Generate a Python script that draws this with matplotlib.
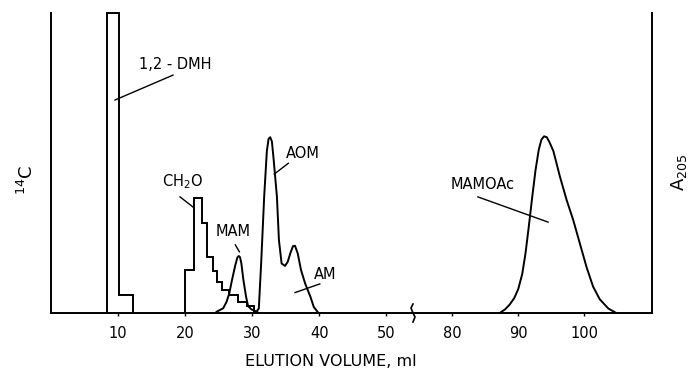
import matplotlib
matplotlib.use("Agg")
import matplotlib.pyplot as plt
from matplotlib.lines import Line2D

plt.rcParams["font.family"] = "DejaVu Sans"
plt.rcParams["mathtext.default"] = "regular"

# 14C histogram (step outlines)
dmh_edges = [8.3, 10.1, 12.3]
dmh_counts = [100, 6]
ch2o_edges = [20, 21.3, 22.5, 23.2, 24.2, 24.7, 25.5, 26.5, 27.9, 29.2, 30.3]
ch2o_counts = [14.3, 38.2, 29.9, 18.6, 14.1, 10.4, 7.7, 6.0, 3.8, 2.3]

# A205 traces
mam_x = [24.7, 25.7, 26.2, 26.6, 27.0, 27.5, 27.8, 28.0, 28.2, 28.4, 28.7, 29.1, 29.4, 29.9, 30.4, 31.0]
mam_y = [0.4, 1.6, 3.8, 6.6, 11.0, 16.0, 18.5, 19.0, 18.6, 16.5, 11.0, 5.4, 2.3, 1.2, 0.7, 0.0]

aom_x = [30.5, 31.0, 31.35, 31.8, 32.2, 32.45, 32.7, 32.95, 33.2, 33.7, 34.0, 34.4, 34.9, 35.3,
         35.7, 36.1, 36.4, 36.8, 37.3, 37.9, 38.7, 39.2, 39.9]
aom_y = [0.0, 1.5, 16.6, 38.8, 54.0, 58.0, 58.6, 57.2, 51.5, 38.8, 24.3, 16.5, 15.7, 17.0,
         19.9, 22.3, 22.4, 19.9, 14.3, 9.9, 5.4, 2.0, 0.0]

mamoac_x = [87.2, 88.0, 88.7, 89.4, 90.0, 90.6, 91.1, 91.6, 92.1, 92.6, 93.1, 93.5, 93.9, 94.3,
            94.7, 95.3, 96.3, 97.3, 98.3, 99.3, 100.3, 101.3, 102.3, 103.6, 104.8]
mamoac_y = [0.0, 1.2, 2.8, 5.0, 8.0, 13.0, 20.0, 29.0, 38.5, 47.5, 54.5, 57.8, 58.9, 58.6,
            57.0, 54.0, 45.4, 37.7, 31.0, 23.2, 15.4, 8.8, 4.6, 1.5, 0.0]

left_ticks = [10, 20, 30, 40, 50]
right_ticks = [80, 90, 100]

W, H = 694, 369
fig = plt.figure(figsize=(W / 100, H / 100), dpi=100)
L, M, R = 51 / W, 413 / W, 652 / W
B, T = 1 - 313 / H, 1 - 13 / H
ax1 = fig.add_axes([L, B, M - L, T - B])
ax2 = fig.add_axes([M, B, R - M, T - B])

lw = 1.4
ax1.stairs(dmh_counts, dmh_edges, color="black", lw=lw, clip_on=False)
ax1.stairs(ch2o_counts, ch2o_edges, color="black", lw=lw)
ax1.plot(mam_x, mam_y, color="black", lw=lw)
ax1.plot(aom_x, aom_y, color="black", lw=lw)
ax2.plot(mamoac_x, mamoac_y, color="black", lw=lw)

ax1.set_xlim(0, 54)
ax2.set_xlim(74.1, 110.2)
for ax in (ax1, ax2):
    ax.set_ylim(0, 100)
    ax.set_yticks([])
    ax.spines["top"].set_visible(False)
    ax.spines["bottom"].set_linewidth(lw)
    ax.tick_params(axis="x", direction="out", length=2.5, width=1, pad=7, labelsize=10.5)
    ax.patch.set_alpha(0)
ax1.spines["right"].set_visible(False)
ax1.spines["left"].set_linewidth(lw)
ax2.spines["left"].set_visible(False)
ax2.spines["right"].set_linewidth(lw)
ax1.set_xticks(left_ticks)
ax2.set_xticks(right_ticks)

# labels with leader lines
fs = 10.5
ax1.text(18.5, 82.7, "1,2 - DMH", fontsize=fs, ha="center", va="center")
ax1.plot([18.2, 9.55], [79.3, 71.0], color="black", lw=1)
ax1.text(19.6, 43.7, "CH$_2$O", fontsize=fs, ha="center", va="center")
ax1.plot([19.25, 21.2], [38.7, 35.3], color="black", lw=1)
ax1.text(27.2, 27.0, "MAM", fontsize=fs, ha="center", va="center")
ax1.plot([27.5, 28.1], [22.7, 20.4], color="black", lw=1)
ax1.text(37.5, 53.2, "AOM", fontsize=fs, ha="center", va="center")
ax1.plot([35.4, 33.3], [49.9, 46.3], color="black", lw=1)
ax1.text(40.9, 12.7, "AM", fontsize=fs, ha="center", va="center")
ax1.plot([36.4, 40.1], [6.8, 9.7], color="black", lw=1)
ax2.text(84.6, 42.7, "MAMOAc", fontsize=fs, ha="center", va="center")
ax2.plot([83.9, 94.5], [38.7, 30.3], color="black", lw=1)

# axis break squiggle
bx = [413, 411, 413, 415, 413]
by = [304, 308, 313, 317, 322]
fig.add_artist(Line2D([x / W for x in bx], [1 - y / H for y in by], color="black", lw=1.2))

fig.text(331 / W, 1 - 362 / H, "ELUTION VOLUME, ml", fontsize=11.5, ha="center", va="center")
fig.text(27 / W, 1 - 180 / H, "$^{14}$C", fontsize=13, rotation=90, ha="center", va="center")
fig.text(679 / W, 1 - 172 / H, "A$_{205}$", fontsize=13, rotation=90, ha="center", va="center")

fig.savefig("out.png", dpi=100)
